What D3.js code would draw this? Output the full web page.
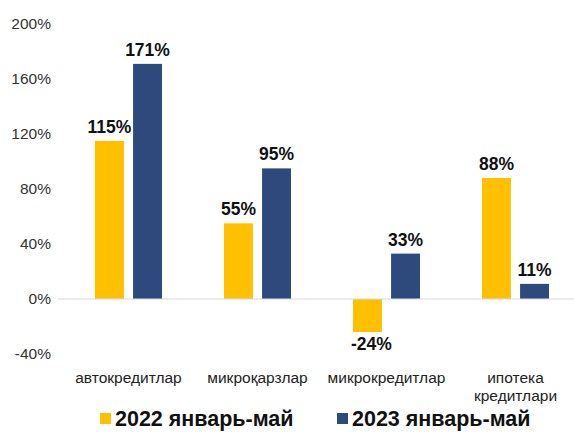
<!DOCTYPE html>
<html>
<head>
<meta charset="utf-8">
<script src="https://cdn.jsdelivr.net/npm/d3@7/dist/d3.min.js"></script>
<style>
  body { margin: 0; background: #fff; }
  svg { font-family: "Liberation Sans", Arial, sans-serif; }
</style>
</head>
<body>
<div id="chart"></div>
<script>
// data
var categories = ["автокредитлар", "микроқарзлар", "микрокредитлар", "ипотека кредитлари"];
var catLines = [["автокредитлар"], ["микроқарзлар"], ["микрокредитлар"], ["ипотека", "кредитлари"]];
var seriesNames = ["2022 январь-май", "2023 январь-май"];
var values2022 = [115, 55, -24, 88];
var values2023 = [171, 95, 33, 11];
var yTicks = [-40, 0, 40, 80, 120, 160, 200];
var colors = ["#FFC000", "#2E4A7D"];

var width = 574, height = 432;

var svg = d3.select("#chart")
  .append("svg")
    .attr("width", width)
    .attr("height", height);

var x = d3.scaleBand()
    .domain(categories)
    .range([64, 580])
    .paddingInner(0)
    .paddingOuter(0);

var xSub = d3.scaleBand()
    .domain([0, 1])
    .range([31, 98])
    .paddingInner(0.24);

var y = d3.scaleLinear()
    .domain([-40, 200])
    .range([354, 24]);

// y axis labels
var yAxis = d3.axisLeft(y)
    .tickValues(yTicks)
    .tickSize(0)
    .tickPadding(0)
    .tickFormat(function(d){ return d + "%"; });

var gy = svg.append("g")
    .attr("transform", "translate(51,0)")
    .call(yAxis);
gy.select(".domain").remove();
gy.selectAll("text")
    .style("font-size", "15.5px")
    .style("fill", "#333")
    .style("font-family", "Liberation Sans, Arial, sans-serif");

// bars
var data = [];
categories.forEach(function(c, i){
    data.push({cat: c, s: 0, v: values2022[i]});
    data.push({cat: c, s: 1, v: values2023[i]});
});

svg.append("g")
  .selectAll("rect")
  .data(data)
  .enter()
  .append("rect")
    .attr("x", function(d){ return x(d.cat) + xSub(d.s); })
    .attr("width", xSub.bandwidth())
    .attr("y", function(d){ return y(Math.max(0, d.v)); })
    .attr("height", function(d){ return Math.abs(y(d.v) - y(0)); })
    .style("fill", function(d){ return colors[d.s]; });

// zero line
svg.append("line")
    .attr("x1", 58).attr("x2", 574)
    .attr("y1", y(0)).attr("y2", y(0))
    .style("stroke", "#d9d9d9")
    .style("stroke-width", 1.2);

// value labels
svg.append("g")
  .selectAll("text")
  .data(data)
  .enter()
  .append("text")
    .attr("x", function(d){ return x(d.cat) + xSub(d.s) + xSub.bandwidth() / 2 + (d.v < 0 ? 4 : 0); })
    .attr("y", function(d){ return d.v >= 0 ? y(d.v) - 8 : y(d.v) + 18; })
    .attr("text-anchor", "middle")
    .style("font-size", "17.5px")
    .style("font-weight", "bold")
    .style("fill", "#111")
    .text(function(d){ return d.v + "%"; });

// category labels
var cl = svg.append("g")
  .selectAll("text")
  .data(categories)
  .enter()
  .append("text")
    .attr("text-anchor", "middle")
    .attr("x", function(d){ return x(d) + x.bandwidth() / 2; })
    .attr("y", 383)
    .style("font-size", "15.5px")
    .style("fill", "#222");
cl.selectAll("tspan")
  .data(function(d, i){ return catLines[i]; })
  .enter()
  .append("tspan")
    .attr("x", function(){ return d3.select(this.parentNode).attr("x"); })
    .attr("dy", function(d, i){ return i === 0 ? 0 : 18; })
    .text(function(d){ return d; });

// legend
var legendX = [100, 337];
var lg = svg.append("g")
  .selectAll("g")
  .data(seriesNames)
  .enter()
  .append("g")
    .attr("transform", function(d, i){ return "translate(" + legendX[i] + ",413)"; });
lg.append("rect")
    .attr("width", 11).attr("height", 11)
    .style("fill", function(d, i){ return colors[i]; });
lg.append("text")
    .attr("x", 15)
    .attr("y", 13)
    .style("font-size", "21.5px")
    .style("font-weight", "bold")
    .style("fill", "#111")
    .text(function(d){ return d; });
</script>
</body>
</html>
